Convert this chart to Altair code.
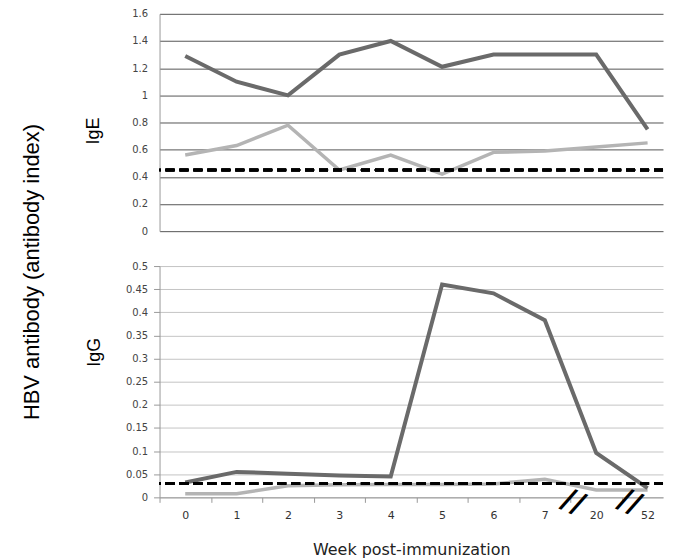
import altair as alt
import pandas as pd

# ---- data ----
weeks = ["0", "1", "2", "3", "4", "5", "6", "7", "20", "52"]
ige_high = [1.29, 1.10, 1.00, 1.30, 1.40, 1.21, 1.30, 1.30, 1.30, 0.75]
ige_low = [0.56, 0.63, 0.78, 0.45, 0.56, 0.42, 0.58, 0.59, 0.62, 0.65]
igg_high = [0.032, 0.055, 0.051, 0.047, 0.045, 0.460, 0.441, 0.383, 0.096, 0.020]
igg_low = [0.008, 0.008, 0.025, 0.027, 0.028, 0.028, 0.029, 0.039, 0.016, 0.016]
ige_cutoff = 0.45
igg_cutoff = 0.03
ige_ticks = [0, 0.2, 0.4, 0.6, 0.8, 1, 1.2, 1.4, 1.6]
igg_ticks = [0, 0.05, 0.1, 0.15, 0.2, 0.25, 0.3, 0.35, 0.4, 0.45, 0.5]
break_marks = [7.55, 8.65]  # axis-break symbols between weeks 7|20 and 20|52

W = 505
X_DOMAIN = [-0.5, 9.3]
half_band = W / (X_DOMAIN[1] - X_DOMAIN[0]) / 2

idx = list(range(len(weeks)))
df_ige = pd.DataFrame({"idx": idx, "week": weeks, "high": ige_high, "low": ige_low})
df_igg = pd.DataFrame({"idx": idx, "week": weeks, "high": igg_high, "low": igg_low})
df_breaks = pd.DataFrame({"pos": break_marks})

DARK = "#6a6a6a"
LIGHT = "#b4b4b4"
LABEL_FONT = "DejaVu Sans"
TITLE_FONT = "Liberation Sans"

label_js = "[" + ",".join("'%s'" % w for w in weeks) + "]"
xsc = alt.Scale(domain=X_DOMAIN, nice=False, zero=False)

x_bottom_axis = alt.Axis(
    values=[i - 0.5 for i in idx],
    labelExpr=label_js + "[round(datum.value + 0.5)]",
    labelOffset=half_band,
    labelOverlap=False,
    labelFlush=False,
    labelFont=LABEL_FONT,
    labelFontSize=11,
    labelColor="#333",
    labelPadding=7,
    tickColor="#999",
    tickSize=5,
    domainColor="#999",
    grid=False,
    title="Week post-immunization",
    titleFont=LABEL_FONT,
    titleFontSize=16,
    titleFontWeight="normal",
    titleColor="#222",
    titlePadding=21,
)


def y_axis(title, ticks, grid_color, tick_size, pad, title_pad, title_y):
    return alt.Axis(
        values=ticks,
        format="~g",
        labelOverlap=False,
        labelSeparation=0,
        grid=True,
        gridColor=grid_color,
        gridWidth=1,
        domainColor="#999",
        ticks=tick_size > 0,
        tickSize=max(tick_size, 1),
        tickColor="#999",
        labelFont=LABEL_FONT,
        labelFontSize=10,
        labelColor="#444",
        labelPadding=pad,
        title=title,
        titleFont=TITLE_FONT,
        titleFontSize=18,
        titleFontWeight="normal",
        titleColor="#000",
        titlePadding=title_pad,
        titleY=title_y,
    )


def panel(df, x_axis, y_dom, ticks, title, grid_color, cutoff, height, tick_size, pad, title_pad, title_y, breaks=False):
    ysc = alt.Scale(domain=y_dom, nice=False, zero=True)
    yax = y_axis(title, ticks, grid_color, tick_size, pad, title_pad, title_y)
    x_enc = alt.X("idx:Q", scale=xsc, axis=x_axis, title=None if x_axis is None else "Week post-immunization")
    base = alt.Chart(df)
    low = base.mark_line(color=LIGHT, strokeWidth=3.5).encode(
        x=x_enc, y=alt.Y("low:Q", scale=ysc, axis=yax, title=title)
    )
    high = base.mark_line(color=DARK, strokeWidth=4).encode(
        x=x_enc, y=alt.Y("high:Q", scale=ysc, axis=yax, title=title)
    )
    rule = base.mark_rule(color="#000", strokeWidth=2.5, strokeDash=[9, 5]).encode(
        y=alt.Y(datum=cutoff, scale=ysc, axis=yax, title=title)
    )
    layers = [low, high, rule]
    if breaks:
        brk = alt.Chart(df_breaks).mark_text(
            text="//", font="DejaVu Sans", fontWeight="bold", fontSize=30, angle=24, color="#000"
        ).encode(
            x=alt.X("pos:Q", scale=xsc, axis=x_axis, title="Week post-immunization"),
            y=alt.value(height + 5),
        )
        layers.append(brk)
    return alt.layer(*layers).properties(width=W, height=height)


top = panel(df_ige, None, [0, 1.6], ige_ticks, "IgE", "#555", ige_cutoff, 218, 0, 12, 29, 117)
bottom = panel(df_igg, x_bottom_axis, [0, 0.5], igg_ticks, "IgG", "#c4c4c4", igg_cutoff, 232, 6, 6, 22, 86, breaks=True)

chart = (
    alt.vconcat(top, bottom, spacing=25)
    .properties(
        title=alt.TitleParams(
            "HBV antibody (antibody index)",
            orient="left",
            anchor="middle",
            font="Liberation Sans Narrow, Liberation Sans",
            fontSize=22,
            fontWeight="normal",
            color="#000",
            offset=41,
            dx=11,
        ),
        padding={"left": 13, "top": 0, "right": 0, "bottom": 0},
    )
    .configure_view(stroke=None)
    .configure_axisY(labelOverlap=False)
)

chart.save("out.html", embed_options={"renderer": "svg", "actions": False})
